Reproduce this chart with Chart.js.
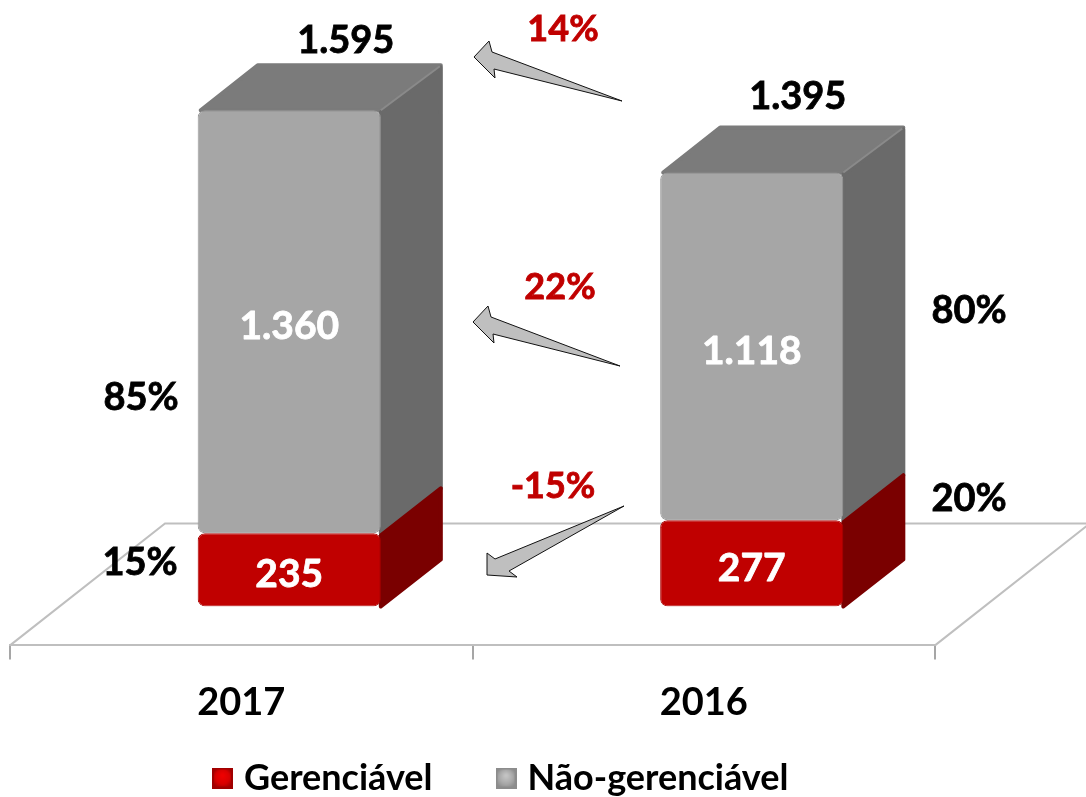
<!DOCTYPE html>
<html lang="pt">
<head>
<meta charset="utf-8">
<style>html,body{margin:0;padding:0;background:#fff;overflow:hidden}canvas{display:block}</style>
<script src="https://cdn.jsdelivr.net/npm/chart.js@4"></script>
</head>
<body>
<canvas id="c" width="1086" height="797"></canvas>
<script>
const categories = ['2017', '2016'];
const gerenciavel = [235, 277];
const naoGerenciavel = [1360, 1118];
const sharePercent = ['15%', '20%'];
const otherSharePercent = ['85%', '80%'];
const changeLabels = ['14%', '22%', '-15%'];

const FONT = 'Lato, "Open Sans", sans-serif';
const BAR_SHIFT = {x: 48, y: -39};
const DEPTH = {x: 60, y: -45};
const FLOOR = {x: 155, y: -122};
const TOTAL_OFFSET = [{x: 56.5, y: -70}, {x: 46, y: -76}];

const fmt = v => String(v).replace(/\B(?=(\d{3})+$)/g, '.');

function swatch(edge, mid, light) {
  const s = document.createElement('canvas');
  s.width = 21; s.height = 21;
  const g = s.getContext('2d');
  g.fillStyle = edge; g.fillRect(0, 0, 21, 21);
  const r = g.createRadialGradient(10.5, 8, 1, 10.5, 10.5, 11);
  r.addColorStop(0, light); r.addColorStop(0.6, mid); r.addColorStop(1, edge);
  g.fillStyle = r; g.fillRect(2, 2, 17, 17);
  return s;
}
const swatches = [swatch('#a00000', '#d80000', '#ee0000'), swatch('#8c8c8c', '#a8a8a8', '#c4c4c4')];

function text(ctx, s, x, y, color, size) {
  ctx.save();
  ctx.font = 'bold ' + size + 'px ' + FONT;
  ctx.fillStyle = color;
  ctx.strokeStyle = color;
  ctx.lineWidth = 0.8;
  ctx.textAlign = 'center';
  ctx.textBaseline = 'middle';
  ctx.fillText(s, x, y);
  ctx.strokeText(s, x, y);
  ctx.restore();
}

function poly(ctx, pts, fill, stroke, lw) {
  ctx.beginPath();
  pts.forEach((p, i) => i ? ctx.lineTo(p[0], p[1]) : ctx.moveTo(p[0], p[1]));
  ctx.closePath();
  ctx.fillStyle = fill;
  ctx.fill();
  ctx.lineJoin = 'round';
  ctx.lineWidth = lw;
  ctx.strokeStyle = stroke;
  ctx.stroke();
}

const callouts = [
  [[622,101],[494,69],[495,78],[474,57],[489,41],[492,52]],
  [[620,366],[493,334],[494,343],[473,322],[488,306],[491,317]],
  [[624,506],[509,571],[517,577],[487,575],[487,553],[495,559]]
];

const chart3d = {
  id: 'chart3d',
  beforeLayout(chart) {
    const l = chart.legend;
    if (!l.__patched) {
      const fit = l.fit;
      l.fit = function () { fit.call(this); this.height = 0; };
      l.__patched = true;
    }
  },
  afterLayout(chart) {
    const l = chart.legend;
    l.left = 149; l.right = 1086; l.top = 690; l.bottom = 797;
  },
  beforeDatasetsDraw(chart) {
    const {ctx, chartArea: a} = chart;
    ctx.save();
    ctx.strokeStyle = '#bfbfbf';
    ctx.lineWidth = 2;
    ctx.beginPath();
    ctx.moveTo(a.left, a.bottom);
    ctx.lineTo(a.left + FLOOR.x, a.bottom + FLOOR.y);
    ctx.lineTo(a.right + FLOOR.x, a.bottom + FLOOR.y);
    ctx.lineTo(a.right, a.bottom);
    ctx.stroke();
    ctx.restore();

    ctx.save();
    ctx.translate(BAR_SHIFT.x, BAR_SHIFT.y);
    const grey = chart.getDatasetMeta(1).data;
    const red = chart.getDatasetMeta(0).data;
    const dx = DEPTH.x, dy = DEPTH.y;
    grey.forEach(b => {
      const r = b.x + b.width / 2, l = b.x - b.width / 2;
      poly(ctx, [[l + 3, b.y], [l + dx, b.y + dy], [r + dx, b.y + dy], [r, b.y]], '#7b7b7b', '#7b7b7b', 4);
      poly(ctx, [[r, b.y + 2], [r + dx, b.y + dy + 2], [r + dx, b.base + dy], [r, b.base]], '#6a6a6a', '#6a6a6a', 4);
      ctx.strokeStyle = '#8a8a8a'; ctx.lineWidth = 2;
      ctx.beginPath(); ctx.moveTo(r, b.y); ctx.lineTo(r + dx - 1, b.y + dy + 1); ctx.stroke();
    });
    red.forEach(b => {
      b.enableBorderRadius = true;
      const r = b.x + b.width / 2;
      poly(ctx, [[r, b.y + 2], [r + dx, b.y + dy], [r + dx, b.base + dy - 2], [r, b.base]], '#7a0000', '#7a0000', 4);
    });
  },
  afterDatasetsDraw(chart) {
    const {ctx} = chart;
    chart.data.datasets.forEach((ds, i) => {
      chart.getDatasetMeta(i).data.forEach((b, j) => {
        text(ctx, fmt(ds.data[j]), b.x, (b.y + b.base) / 2 + 5, '#fff', 39);
      });
    });
    ctx.restore();

    chart.getDatasetMeta(1).data.forEach((b, j) => {
      const total = gerenciavel[j] + naoGerenciavel[j];
      text(ctx, fmt(total), b.x + BAR_SHIFT.x + TOTAL_OFFSET[j].x, b.y + BAR_SHIFT.y + TOTAL_OFFSET[j].y, '#000', 38);
    });

    text(ctx, otherSharePercent[0], 141, 398, '#000', 38);
    text(ctx, sharePercent[0], 140, 563, '#000', 38);
    text(ctx, otherSharePercent[1], 969, 311, '#000', 38);
    text(ctx, sharePercent[1], 969, 499, '#000', 38);

    text(ctx, changeLabels[0], 563, 29, '#c00000', 36);
    text(ctx, changeLabels[1], 560, 287, '#c00000', 36);
    text(ctx, changeLabels[2], 553, 486, '#c00000', 36);

    callouts.forEach(p => poly(ctx, p, '#bfbfbf', '#111', 1));
  }
};

new Chart(document.getElementById('c'), {
  type: 'bar',
  data: {
    labels: categories,
    datasets: [
      {label: 'Gerenciável', data: gerenciavel, backgroundColor: '#c00000', borderColor: '#a80000', borderWidth: 1, borderRadius: 7, borderSkipped: false},
      {label: 'Não-gerenciável', data: naoGerenciavel, backgroundColor: '#a6a6a6', borderColor: '#999999', borderWidth: 1, borderRadius: 7, borderSkipped: false}
    ]
  },
  options: {
    responsive: false,
    animation: false,
    layout: {padding: {left: 10, right: 151, top: 85.5, bottom: 50}},
    datasets: {bar: {barPercentage: 0.396, categoryPercentage: 1}},
    scales: {
      x: {
        stacked: true,
        grid: {drawOnChartArea: false, drawTicks: true, tickLength: 14, color: '#a6a6a6', lineWidth: 2},
        border: {color: '#bfbfbf', width: 2},
        ticks: {color: '#000', padding: 21, maxRotation: 0, font: {family: FONT, size: 38, weight: 'bold'}}
      },
      y: {display: false, stacked: true, min: 0, max: 1800}
    },
    plugins: {
      tooltip: {enabled: false},
      legend: {
        position: 'bottom',
        align: 'start',
        labels: {
          usePointStyle: true,
          pointStyleWidth: 7,
          padding: 70,
          color: '#000',
          font: {family: FONT, size: 36, weight: 'bold'},
          generateLabels(chart) {
            const items = Chart.defaults.plugins.legend.labels.generateLabels(chart);
            items.forEach(it => { it.pointStyle = swatches[it.datasetIndex]; });
            return items;
          }
        }
      }
    }
  },
  plugins: [chart3d]
});
</script>
</body>
</html>
